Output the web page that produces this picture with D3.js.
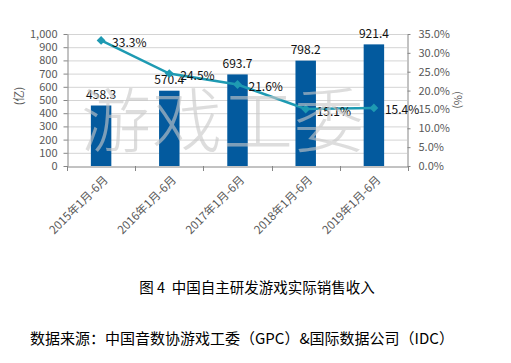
<!DOCTYPE html>
<html>
<head>
<meta charset="utf-8">
<script src="https://cdn.jsdelivr.net/npm/d3@7"></script>
<style>
  body { margin: 0; background: #fff; }
  svg { display: block; }
</style>
</head>
<body>
<div id="chart"></div>
<script>
// ---------------- DATA ----------------
const periods = ["2015年1月-6月","2016年1月-6月","2017年1月-6月","2018年1月-6月","2019年1月-6月"];
const revenue = [458.3, 570.4, 693.7, 798.2, 921.4];
const growth = [33.3, 24.5, 21.6, 15.1, 15.4];
const leftTicks = [0,100,200,300,400,500,600,700,800,900,1000];
const rightTicks = [0,5,10,15,20,25,30,35];

const width = 511, height = 363;
const margin = {top: 34, right: 104, bottom: 197, left: 67};
const font = "'Noto Sans CJK SC','Liberation Sans',sans-serif";

const svg = d3.select("#chart").append("svg")
  .attr("width", width).attr("height", height)
  .style("font-family", font);

const x = d3.scaleBand().domain(periods).range([margin.left, width - margin.right + 1]);
const y = d3.scaleLinear().domain([0, 1000]).range([height - margin.bottom, margin.top]);
const y2 = d3.scaleLinear().domain([0, 35]).range([height - margin.bottom, margin.top]);

// ---------------- GRID ----------------
svg.append("g").selectAll("line")
  .data(leftTicks.slice(1))
  .enter().append("line")
  .attr("x1", margin.left).attr("x2", width - margin.right)
  .attr("y1", d => y(d) + 0.5).attr("y2", d => y(d) + 0.5)
  .attr("stroke", "#d4d4d4");

// ---------------- BARS ----------------
const barW = x.bandwidth() * 0.3;
svg.append("g").selectAll("rect")
  .data(revenue)
  .enter().append("rect")
  .attr("x", (d, i) => x(periods[i]) + x.bandwidth() / 2 - barW / 2)
  .attr("y", d => y(d))
  .attr("width", barW)
  .attr("height", d => y(0) - y(d))
  .attr("fill", "#035a9e");

// ---------------- AXES ----------------
function styleAxis(g) {
  g.select(".domain").attr("stroke", "#868686");
  g.selectAll(".tick line").attr("stroke", "#868686");
  g.selectAll(".tick text").attr("fill", "#595959").style("font-size", "11px").style("font-family", font);
}

svg.append("g")
  .attr("transform", `translate(${margin.left + 0.5},0)`)
  .call(d3.axisLeft(y).tickValues(leftTicks).tickFormat(d3.format(",")).tickSize(4).tickSizeOuter(0).tickPadding(6))
  .call(styleAxis);

svg.append("g")
  .attr("transform", `translate(${width - margin.right + 0.5},0)`)
  .call(d3.axisRight(y2).tickValues(rightTicks).tickFormat(d => d.toFixed(1) + "%").tickSize(3).tickSizeOuter(0).tickPadding(8))
  .call(styleAxis);

const xAxis = svg.append("g")
  .attr("transform", `translate(0,${y(0) + 0.5})`)
  .call(d3.axisBottom(x).tickValues([]).tickSizeOuter(0));
xAxis.select(".domain").attr("stroke", "#868686");

// tick marks at band boundaries
const bounds = periods.map(p => x(p)).concat([x.range()[1]]);
svg.append("g").selectAll("line")
  .data(bounds)
  .enter().append("line")
  .attr("x1", d => Math.round(d) + 0.5).attr("x2", d => Math.round(d) + 0.5)
  .attr("y1", y(0)).attr("y2", y(0) + 5)
  .attr("stroke", "#868686");

// rotated category labels
svg.append("g").selectAll("text")
  .data(periods)
  .enter().append("text")
  .attr("transform", d => `translate(${x(d) + x.bandwidth() / 2 + 4},${y(0) + 11}) rotate(-45)`)
  .attr("text-anchor", "end")
  .attr("dominant-baseline", "central")
  .attr("fill", "#595959")
  .style("font-size", "11.5px")
  .text(d => d);

// axis titles
svg.append("text")
  .attr("transform", `translate(18,96) rotate(-90)`)
  .attr("text-anchor", "middle")
  .attr("dominant-baseline", "central")
  .attr("fill", "#595959")
  .style("font-size", "11px")
  .text("(亿)");

svg.append("text")
  .attr("transform", `translate(459,100) rotate(90)`)
  .attr("text-anchor", "middle")
  .attr("dominant-baseline", "central")
  .attr("fill", "#595959")
  .style("font-size", "11px")
  .text("(%)");

// ---------------- BAR LABELS ----------------
svg.append("g").selectAll("text")
  .data(revenue)
  .enter().append("text")
  .attr("x", (d, i) => x(periods[i]) + x.bandwidth() / 2)
  .attr("y", d => y(d) - 12)
  .attr("text-anchor", "middle")
  .attr("dominant-baseline", "central")
  .attr("fill", "#111")
  .style("font-size", "12px")
  .text(d => d.toFixed(1));

// ---------------- LINE ----------------
const cx = i => x(periods[i]) + x.bandwidth() / 2;
const line = d3.line()
  .x((d, i) => cx(i))
  .y(d => y2(d));

svg.append("path")
  .datum(growth)
  .attr("d", line)
  .attr("fill", "none")
  .attr("stroke", "#1e9ab2")
  .attr("stroke-width", 2.5);

svg.append("g").selectAll("path")
  .data(growth)
  .enter().append("path")
  .attr("d", d3.symbol().type(d3.symbolDiamond2).size(50))
  .attr("transform", (d, i) => `translate(${cx(i)},${y2(d)})`)
  .attr("fill", "#1e9ab2");

svg.append("g").selectAll("text")
  .data(growth)
  .enter().append("text")
  .attr("x", (d, i) => cx(i) + 11)
  .attr("y", d => y2(d) + 1)
  .attr("dominant-baseline", "central")
  .attr("fill", "#111")
  .style("font-size", "12px")
  .text(d => d.toFixed(1) + "%");

// ---------------- WATERMARK ----------------
svg.append("text")
  .attr("x", 223)
  .attr("y", 116)
  .attr("text-anchor", "middle")
  .attr("dominant-baseline", "central")
  .attr("fill", "rgba(200,200,200,0.62)")
  .style("font-size", "70px")
  .style("font-weight", "300")
  .style("letter-spacing", "1px")
  .text("游戏工委");

// ---------------- CAPTIONS ----------------
svg.append("text")
  .attr("x", 257)
  .attr("y", 286)
  .attr("text-anchor", "middle")
  .attr("dominant-baseline", "central")
  .attr("fill", "#000")
  .style("font-size", "14.5px")
  .attr("xml:space", "preserve")
  .text("图 4  中国自主研发游戏实际销售收入");

svg.append("text")
  .attr("x", 30)
  .attr("y", 337)
  .attr("dominant-baseline", "central")
  .attr("fill", "#000")
  .style("font-size", "15px")
  .text("数据来源：中国音数协游戏工委（GPC）&国际数据公司（IDC）");
</script>
</body>
</html>
